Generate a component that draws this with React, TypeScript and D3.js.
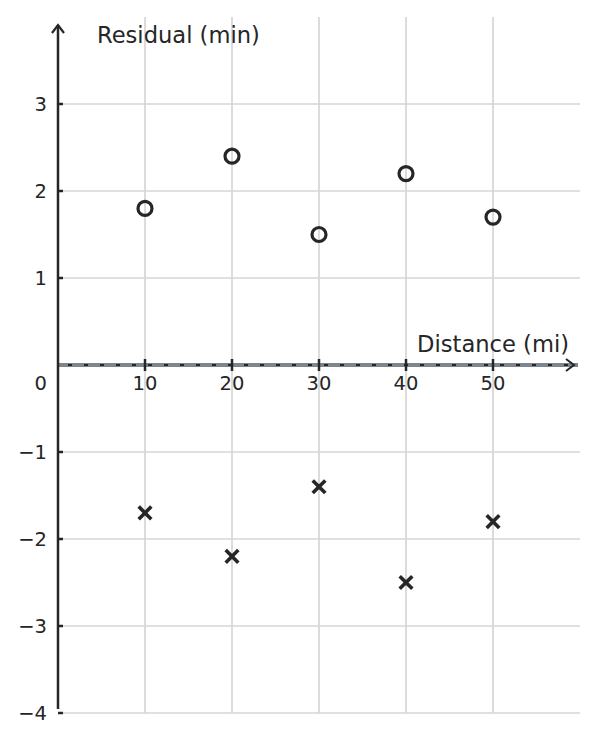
import { scaleLinear, range } from "d3";

const distances = [10, 20, 30, 40, 50];
const positiveResiduals = [1.8, 2.4, 1.5, 2.2, 1.7];
const negativeResiduals = [-1.7, -2.2, -1.4, -2.5, -1.8];
const xTicks = [10, 20, 30, 40, 50];
const yTicks = [3, 2, 1, -1, -2, -3, -4];

const W = 597;
const H = 741;
const INK = "#262626";
const GRID = "#d6d6d6";
const FONT = "DejaVu Sans, sans-serif";

export default function App() {
  const x = scaleLinear().domain([0, 60]).range([58, 580]);
  const y = scaleLinear().domain([-4, 4]).range([713, 17]);
  const y0 = y(0);
  const x0 = x(0);

  // dashes along the x axis
  const dashes = range(x0 + 10, x(60) - 8, 16);

  const fmt = (v: number) => (v < 0 ? "\u2212" + Math.abs(v) : String(v));

  return (
    <svg
      width={W}
      height={H}
      style={{ position: "absolute", left: 0, top: 0, background: "#fff" }}
      fontFamily={FONT}
    >
      {/* grid */}
      {xTicks.map((t) => (
        <line key={"gx" + t} x1={x(t)} x2={x(t)} y1={y(4)} y2={y(-4)} stroke={GRID} strokeWidth={1.7} />
      ))}
      {yTicks.map((t) => (
        <line key={"gy" + t} x1={x0} x2={x(60)} y1={y(t)} y2={y(t)} stroke={GRID} strokeWidth={1.7} />
      ))}

      {/* x axis: grey band + dashes */}
      <line x1={x0} x2={x(60) - 2} y1={y0} y2={y0} stroke="#7d868c" strokeWidth={4} />
      {dashes.map((d, i) => (
        <line key={"d" + i} x1={d} x2={d + 4} y1={y0} y2={y0} stroke={INK} strokeWidth={2} />
      ))}
      <path
        d={`M${x(60) - 14},${y0 - 6} L${x(60) - 6},${y0} L${x(60) - 14},${y0 + 6}`}
        fill="none"
        stroke={INK}
        strokeWidth={2}
      />
      {xTicks.map((t) => (
        <g key={"xt" + t}>
          <line x1={x(t)} x2={x(t)} y1={y0 - 6} y2={y0 + 6} stroke={INK} strokeWidth={2.5} />
          <text x={x(t)} y={y0 + 25} textAnchor="middle" fontSize={19.5} fill={INK}>
            {t}
          </text>
        </g>
      ))}
      <text x={569} y={352} textAnchor="end" fontSize={22.6} fill={INK}>
        Distance (mi)
      </text>

      {/* y axis */}
      <line x1={x0} x2={x0} y1={y(-4) - 4} y2={y(4) + 8} stroke={INK} strokeWidth={2.5} />
      <path
        d={`M${x0 - 6},${y(4) + 16} L${x0},${y(4) + 8} L${x0 + 6},${y(4) + 16}`}
        fill="none"
        stroke={INK}
        strokeWidth={2.2}
      />
      {yTicks.map((t) => (
        <g key={"yt" + t}>
          <line x1={x0} x2={x0 + 5} y1={y(t)} y2={y(t)} stroke={INK} strokeWidth={2.5} />
          <text x={47} y={y(t)} dy="0.35em" textAnchor="end" fontSize={19.5} fill={INK}>
            {fmt(t)}
          </text>
        </g>
      ))}
      <text x={47} y={y0 + 25} textAnchor="end" fontSize={19.5} fill={INK}>
        0
      </text>
      <text x={97} y={43} fontSize={22.6} fill={INK}>
        Residual (min)
      </text>

      {/* markers */}
      {distances.map((d, i) => (
        <circle
          key={"c" + i}
          cx={x(d)}
          cy={y(positiveResiduals[i])}
          r={7}
          fill="none"
          stroke={INK}
          strokeWidth={3.2}
        />
      ))}
      {distances.map((d, i) => {
        const cx = x(d);
        const cy = y(negativeResiduals[i]);
        const s = 6.3;
        return (
          <path
            key={"x" + i}
            d={`M${cx - s},${cy - s} L${cx + s},${cy + s} M${cx - s},${cy + s} L${cx + s},${cy - s}`}
            stroke={INK}
            strokeWidth={3.6}
          />
        );
      })}
    </svg>
  );
}
